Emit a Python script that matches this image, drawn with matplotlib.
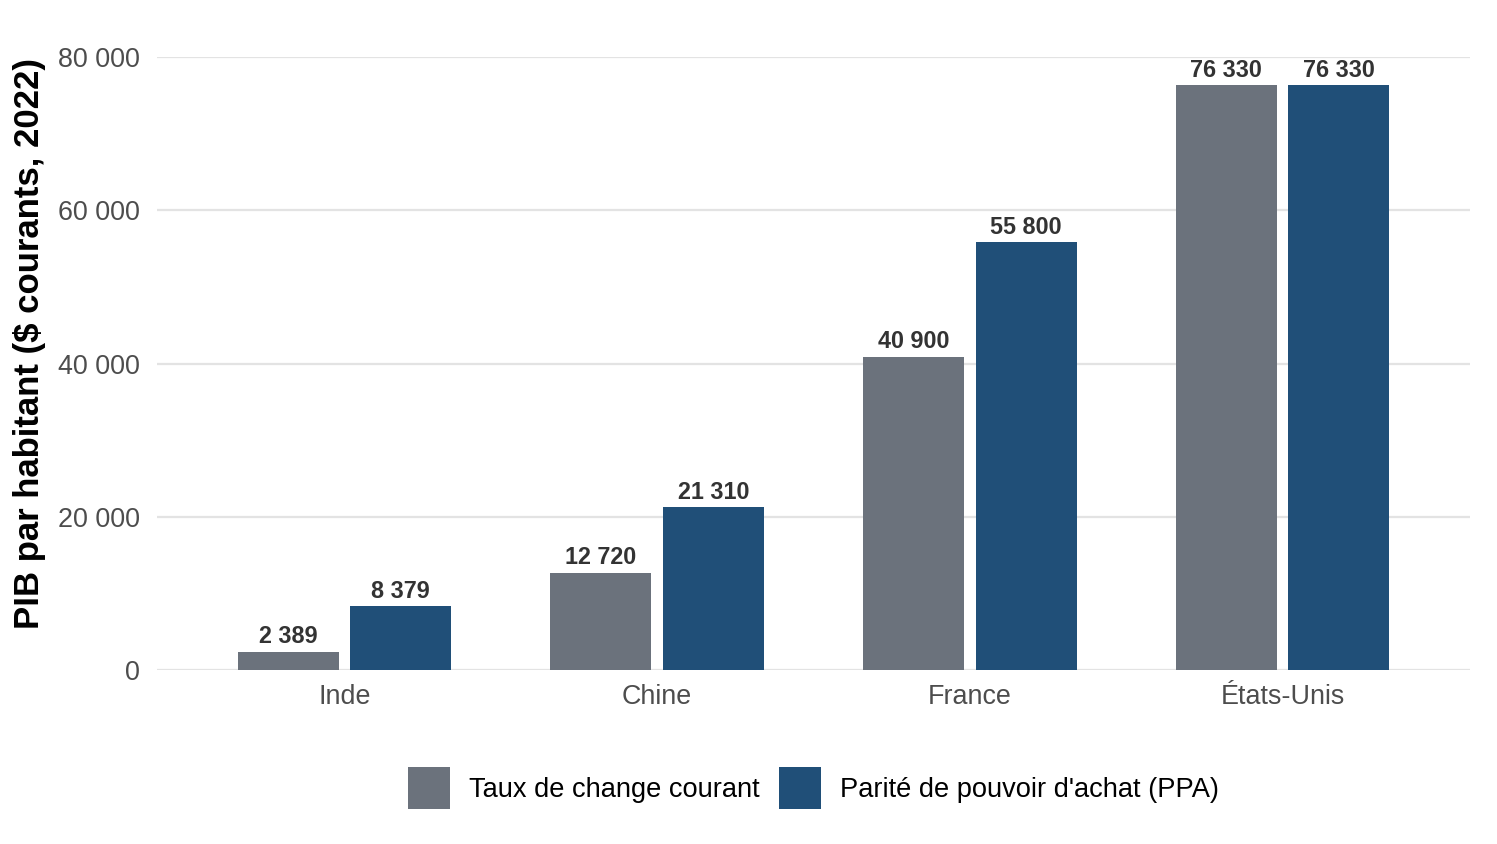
import matplotlib
matplotlib.use("Agg")
import matplotlib.pyplot as plt
import numpy as np

plt.rcParams['font.family'] = ['Liberation Sans', 'DejaVu Sans']

pays = ["Inde", "Chine", "France", "États-Unis"]
taux_change = [2389, 12720, 40900, 76330]
ppa = [8379, 21310, 55800, 76330]
series_noms = ["Taux de change courant", "Parité de pouvoir d'achat (PPA)"]
couleurs = ["#6b727c", "#204f78"]
yticks = [0, 20000, 40000, 60000, 80000]


def fmt(v):
    return "{:,}".format(int(v)).replace(",", " ")


fig = plt.figure(figsize=(14.97, 8.44), dpi=100)
ax = fig.add_axes([157 / 1497, 174 / 844, (1470 - 157) / 1497, 613 / 844])

x = np.arange(len(pays))
w = 0.323
off = 0.18
for vals, dx, c, nom in zip([taux_change, ppa], [-off, off], couleurs, series_noms):
    bars = ax.bar(x + dx, vals, width=w, color=c, label=nom, zorder=2)
    for b, v in zip(bars, vals):
        ax.annotate(fmt(v), (b.get_x() + b.get_width() / 2, v),
                    xytext=(0, 2.3), textcoords="offset points",
                    ha="center", va="bottom", fontsize=16.8,
                    fontweight="bold", color="#333333")

ax.set_xlim(-0.6, 3.6)
ax.set_ylim(0, 80000)
ax.set_yticks(yticks)
ax.set_yticklabels([fmt(t) for t in yticks])
ax.set_xticks(x)
ax.set_xticklabels(pays)
ax.tick_params(axis="y", length=0, pad=12, labelsize=19.4, labelcolor="#4d4d4d")
ax.tick_params(axis="x", length=0, pad=10, labelsize=19.4, labelcolor="#4d4d4d")
ax.grid(axis="y", color="#e3e3e3", linewidth=1.6, zorder=0)
ax.set_axisbelow(True)
for s in ax.spines.values():
    s.set_visible(False)

fig.text(30 / 1497, (844 - 343.5) / 844, "PIB par habitant ($ courants, 2022)", rotation=90,
         ha="center", va="center", fontsize=25, fontweight="bold")

ax.legend(loc="center", bbox_to_anchor=(0.5, -0.1925), ncol=2, frameon=False,
          fontsize=19.6, handlelength=1.55, handleheight=1.98,
          handletextpad=0.7, columnspacing=0.7)

fig.savefig("out.png", dpi=100)
